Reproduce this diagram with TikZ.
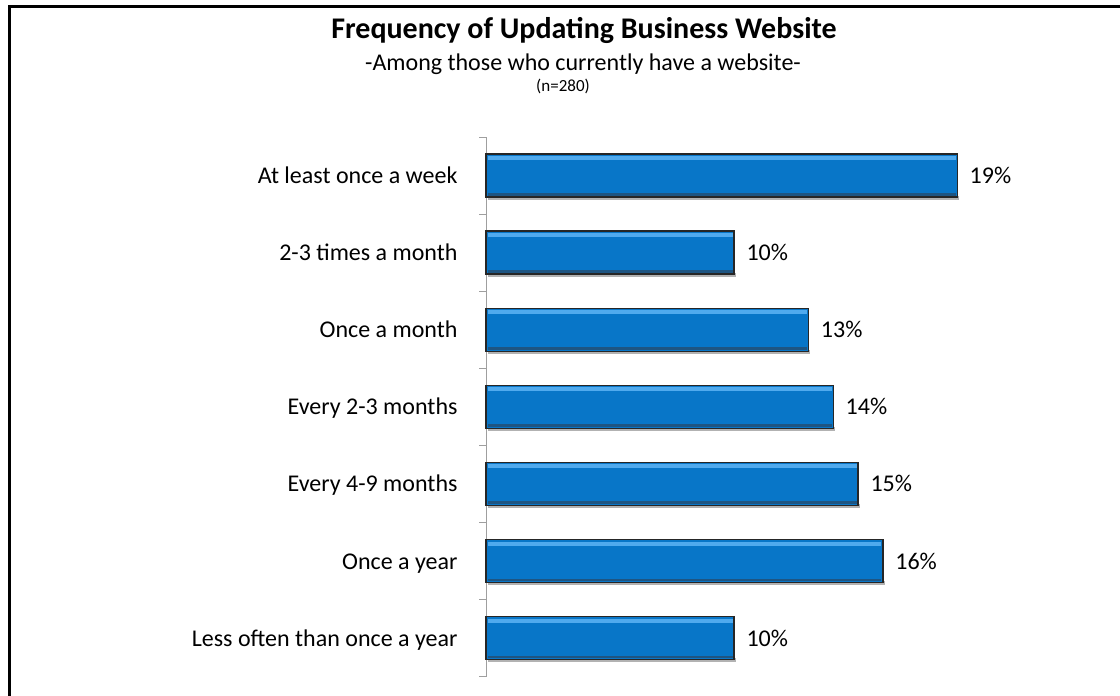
\documentclass[tikz,border=0pt]{standalone}
\usepackage{fontspec}
\setmainfont{Carlito}
\definecolor{barblue}{RGB}{8,118,200}
\definecolor{barlight}{RGB}{80,170,238}
\definecolor{barshade}{RGB}{30,85,130}
\tikzset{
  catlabel/.style={anchor=base east, font=\fontsize{24}{28}\selectfont},
  vallabel/.style={anchor=base west, font=\fontsize{24}{28}\selectfont},
  bar/.style={draw=black!85, line width=1.4pt, fill=barblue}
}
\begin{document}
\begin{tikzpicture}[x=1pt,y=-1pt]
\useasboundingbox (0,0) rectangle (1120,696);
\fill[white] (0,0) rectangle (1120,696);

% outer frame (only top and left edges show)
\draw[line width=3pt] (9,700) -- (9,6) -- (1124,6);

% titles
\node[anchor=base] (title) at (584,38) {\fontsize{30}{34}\selectfont\bfseries Frequency of Updating Business Website};
\node[anchor=base] (sub) at (583,70) {\fontsize{24}{28}\selectfont -Among those who currently have a website-};
\node[anchor=base] (num) at (563,91) {\fontsize{17}{20}\selectfont (n=280)};

% axis and ticks
\draw[gray!75, line width=.9pt] (486,137) -- (486,{137+77.1*7});
\foreach \k in {0,...,7}{
  \draw[gray!75, line width=.9pt] (479,{137+77.1*\k}) -- (486,{137+77.1*\k});
}

% bars
\foreach \v/\txt [count=\i] in {19/At least once a week, 10/2-3 times a month,
  13/Once a month, 14/Every 2-3 months, 15/Every 4-9 months,
  16/Once a year, 10/Less often than once a year}{
  \pgfmathsetmacro{\yc}{137+77.1*(\i-0.5)}
  \pgfmathsetmacro{\xe}{486+24.8*\v}
  \fill[gray!60] (488,\yc+20) rectangle (\xe+2,\yc+24);
  \draw[bar] (486,\yc-21.5) rectangle (\xe,\yc+21.5);
  \fill[barlight] (487.5,\yc-19.5) rectangle (\xe-1.5,\yc-15.5);
  \fill[barshade] (487.5,\yc+17.5) rectangle (\xe-1.5,\yc+20);
  \node[catlabel] (cat\i) at (461,\yc+8) {\txt};
  \node[vallabel] (val\i) at (\xe+9,\yc+8) {\v\%};
}
\end{tikzpicture}
\end{document}
